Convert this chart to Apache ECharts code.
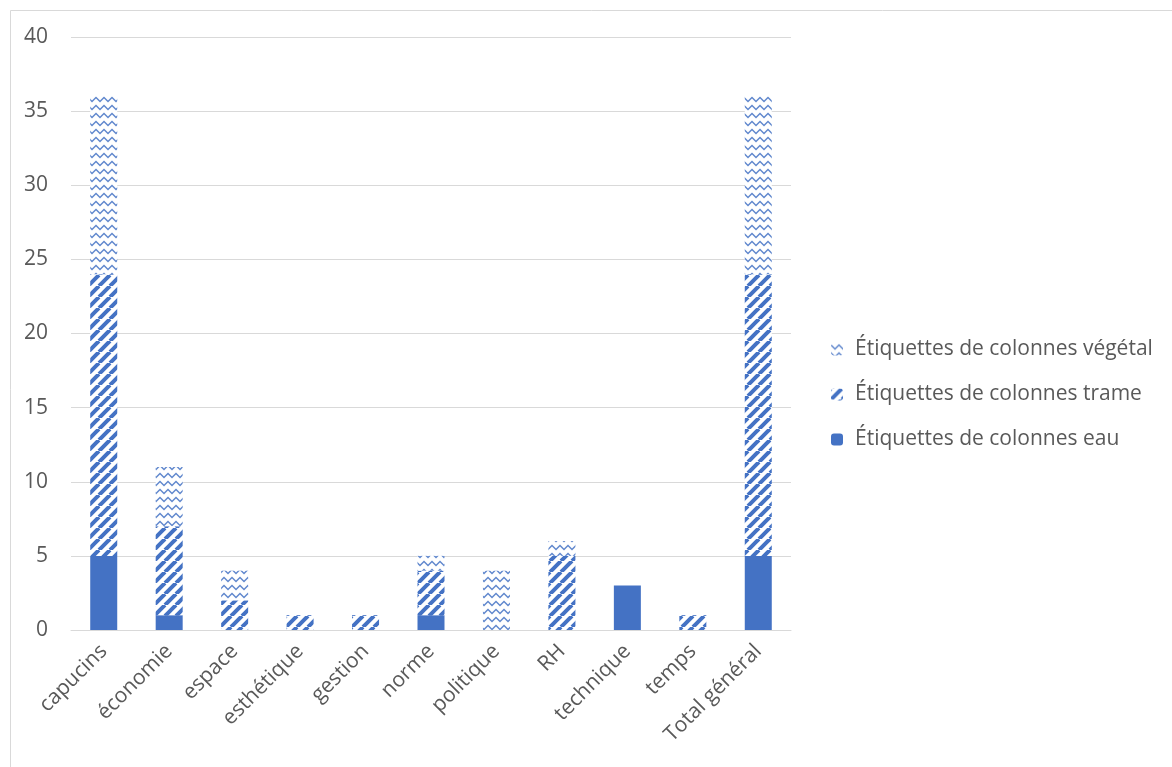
<!DOCTYPE html>
<html>
<head>
<meta charset="utf-8">
<script src="https://cdn.jsdelivr.net/npm/echarts@6/dist/echarts.min.js"></script>
<style>
html,body{margin:0;padding:0;background:#fff;}
#chart{width:1172px;height:767px;}
</style>
</head>
<body>
<div id="chart"></div>
<script>
const categories = ['capucins','économie','espace','esthétique','gestion','norme','politique','RH','technique','temps','Total général'];
const eau     = [5, 1, 0, 0, 0, 1, 0, 0, 3, 0, 5];
const trame   = [19, 6, 2, 1, 1, 3, 0, 5, 0, 1, 19];
const vegetal = [12, 4, 2, 0, 0, 1, 4, 1, 0, 0, 12];
const seriesNames = ['Étiquettes de colonnes eau','Étiquettes de colonnes trame','Étiquettes de colonnes végétal'];
const yTicks = [0, 5, 10, 15, 20, 25, 30, 35, 40];

const BLUE = '#4472c4';
function stripePattern(){
  const s = 11;
  const c = document.createElement('canvas');
  c.width = s; c.height = s;
  const ctx = c.getContext('2d');
  ctx.fillStyle = '#fff'; ctx.fillRect(0,0,s,s);
  ctx.strokeStyle = BLUE; ctx.lineWidth = 4;
  ctx.beginPath();
  for (let k=-1;k<=1;k++){ ctx.moveTo(k*s, s); ctx.lineTo(k*s + s, 0); }
  ctx.stroke();
  return c;
}
function zigzagPattern(){
  const w = 8, h = 8;
  const c = document.createElement('canvas');
  c.width = w; c.height = h;
  const ctx = c.getContext('2d');
  ctx.fillStyle = '#fff'; ctx.fillRect(0,0,w,h);
  ctx.strokeStyle = BLUE; ctx.lineWidth = 1.5; ctx.globalAlpha = 0.85;
  ctx.beginPath();
  ctx.moveTo(-1, 0.5); ctx.lineTo(0, 1.5); ctx.lineTo(4, 5.5); ctx.lineTo(8, 1.5); ctx.lineTo(9, 0.5);
  ctx.stroke();
  return c;
}

const FONT = 'Open Sans';
const chart = echarts.init(document.getElementById('chart'), null, {renderer:'canvas'});
chart.setOption({
  backgroundColor: '#fff',
  animation: false,
  graphic: [{
    type: 'rect', left: 8, top: 8, silent: true, z: -10,
    shape: {width: 1300, height: 900},
    style: {fill: 'none', stroke: '#d9d9d9', lineWidth: 1}
  }],
  grid: {left: 71, right: 381, top: 37, bottom: 137, containLabel: false},
  legend: {
    orient: 'vertical', left: 826, top: 334, itemGap: 24,
    itemWidth: 12, itemHeight: 12,
    data: [seriesNames[2], seriesNames[1], seriesNames[0]],
    textStyle: {fontFamily: FONT, fontSize: 21, color: '#595959', padding: [0,0,0,7]}
  },
  xAxis: {
    type: 'category', data: categories,
    axisLine: {show: true, lineStyle: {color: '#d9d9d9', width: 1}},
    axisTick: {show: false},
    axisLabel: {rotate: 45, margin: 18, interval: 0, fontFamily: FONT, fontSize: 21, color: '#595959'}
  },
  yAxis: {
    type: 'value', min: yTicks[0], max: yTicks[yTicks.length-1], interval: 5,
    axisLine: {show: false}, axisTick: {show: false},
    splitLine: {lineStyle: {color: '#d9d9d9', width: 1}},
    axisLabel: {margin: 23, fontFamily: FONT, fontSize: 21, color: '#595959'}
  },
  series: [
    {name: seriesNames[0], type: 'bar', stack: 't', data: eau, barWidth: 27,
     itemStyle: {color: BLUE}},
    {name: seriesNames[1], type: 'bar', stack: 't', data: trame, barWidth: 27,
     itemStyle: {color: {image: stripePattern(), repeat: 'repeat'}}},
    {name: seriesNames[2], type: 'bar', stack: 't', data: vegetal, barWidth: 27,
     itemStyle: {color: {image: zigzagPattern(), repeat: 'repeat'}}}
  ]
});
</script>
</body>
</html>
